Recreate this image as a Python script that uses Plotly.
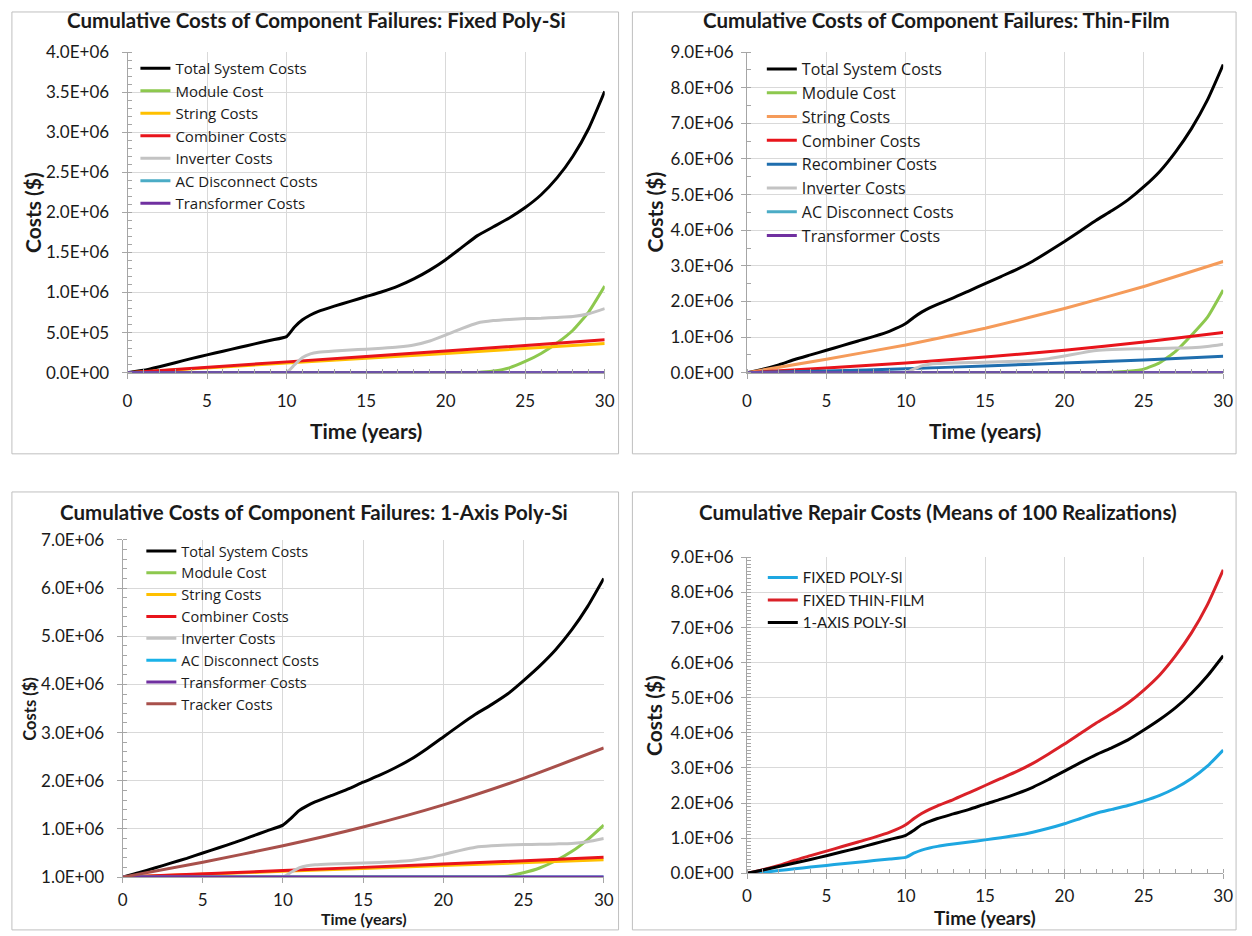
import plotly.graph_objects as go

W, H = 1252, 936

# ---------------- data (costs in $) ----------------
# common time grid for the total-cost curves
T = [0, 1, 2, 3, 4, 5, 6, 7, 8, 9, 10, 10.5, 11, 11.5, 12, 13, 14, 15, 16, 17,
     18, 19, 20, 21, 22, 23, 24, 25, 26, 27, 28, 29, 30]

FIXED_TOTAL = [0, 0.03e6, 0.075e6, 0.125e6, 0.175e6, 0.222e6, 0.268e6, 0.314e6, 0.36e6,
               0.405e6, 0.45e6, 0.57e6, 0.66e6, 0.72e6, 0.765e6, 0.83e6, 0.89e6, 0.95e6,
               1.01e6, 1.08e6, 1.17e6, 1.28e6, 1.41e6, 1.56e6, 1.71e6, 1.82e6, 1.93e6,
               2.06e6, 2.22e6, 2.43e6, 2.70e6, 3.05e6, 3.51e6]
THIN_TOTAL = [0, 0.10e6, 0.22e6, 0.37e6, 0.50e6, 0.63e6, 0.76e6, 0.89e6, 1.02e6, 1.17e6,
              1.38e6, 1.55e6, 1.70e6, 1.82e6, 1.92e6, 2.10e6, 2.30e6, 2.50e6, 2.70e6,
              2.90e6, 3.13e6, 3.40e6, 3.68e6, 3.98e6, 4.28e6, 4.55e6, 4.85e6, 5.22e6,
              5.65e6, 6.20e6, 6.85e6, 7.65e6, 8.65e6]
AXIS_TOTAL = [0, 0.09e6, 0.19e6, 0.29e6, 0.39e6, 0.50e6, 0.61e6, 0.72e6, 0.84e6, 0.96e6,
              1.08e6, 1.22e6, 1.38e6, 1.48e6, 1.56e6, 1.69e6, 1.82e6, 1.97e6, 2.11e6,
              2.27e6, 2.45e6, 2.67e6, 2.91e6, 3.15e6, 3.38e6, 3.58e6, 3.80e6, 4.08e6,
              4.38e6, 4.72e6, 5.13e6, 5.62e6, 6.20e6]

# inverter replacements (same profile on all three systems)
INV_T = [0, 10, 10.5, 11, 11.5, 12, 13, 14, 15, 16, 17, 18, 19, 20, 21, 22, 23, 24, 25,
         26, 27, 28, 29, 30]
INVERTER = [0, 0.005e6, 0.10e6, 0.19e6, 0.235e6, 0.255e6, 0.272e6, 0.283e6, 0.293e6,
            0.305e6, 0.32e6, 0.345e6, 0.395e6, 0.47e6, 0.55e6, 0.62e6, 0.65e6, 0.665e6,
            0.675e6, 0.68e6, 0.69e6, 0.70e6, 0.735e6, 0.80e6]

LIN_T = [0, 10, 20, 30]
ZERO_T = [0, 30]
ZERO = [0, 0]

FIXED_MODULE_T = [0, 21, 22, 23, 24, 25, 26, 27, 28, 29, 30]
FIXED_MODULE = [0, 0, 0.003e6, 0.02e6, 0.06e6, 0.14e6, 0.24e6, 0.37e6, 0.53e6, 0.76e6, 1.08e6]
FIXED_STRING = [0, 0.12e6, 0.24e6, 0.365e6]
FIXED_COMBINER = [0, 0.135e6, 0.27e6, 0.41e6]

THIN_T = [0, 5, 10, 15, 20, 25, 30]
THIN_STRING = [0, 0.38e6, 0.78e6, 1.25e6, 1.80e6, 2.42e6, 3.12e6]
THIN_COMBINER = [0, 0.13e6, 0.27e6, 0.44e6, 0.63e6, 0.86e6, 1.13e6]
THIN_RECOMBINER = [0, 0.05e6, 0.11e6, 0.19e6, 0.27e6, 0.36e6, 0.46e6]
THIN_MODULE_T = [0, 22, 23, 24, 25, 26, 27, 28, 29, 30]
THIN_MODULE = [0, 0, 0.01e6, 0.04e6, 0.10e6, 0.28e6, 0.60e6, 1.05e6, 1.55e6, 2.32e6]

AXIS_MODULE_T = [0, 23, 24, 25, 26, 27, 28, 29, 30]
AXIS_MODULE = [0, 0, 0.02e6, 0.09e6, 0.19e6, 0.34e6, 0.53e6, 0.78e6, 1.08e6]
AXIS_STRING = [0, 0.12e6, 0.24e6, 0.36e6]
AXIS_COMBINER = [0, 0.135e6, 0.27e6, 0.41e6]
AXIS_TRACKER = [0, 0.31e6, 0.65e6, 1.04e6, 1.50e6, 2.05e6, 2.68e6]

X_TICKS = [0, 5, 10, 15, 20, 25, 30]
Y1_TICKS = [0, 0.5e6, 1.0e6, 1.5e6, 2.0e6, 2.5e6, 3.0e6, 3.5e6, 4.0e6]
Y1_LABELS = ["0.0E+00", "5.0E+05", "1.0E+06", "1.5E+06", "2.0E+06", "2.5E+06",
             "3.0E+06", "3.5E+06", "4.0E+06"]
Y9_TICKS = [0, 1e6, 2e6, 3e6, 4e6, 5e6, 6e6, 7e6, 8e6, 9e6]
Y9_LABELS = ["0.0E+00", "1.0E+06", "2.0E+06", "3.0E+06", "4.0E+06", "5.0E+06",
             "6.0E+06", "7.0E+06", "8.0E+06", "9.0E+06"]
Y7_TICKS = [0, 1e6, 2e6, 3e6, 4e6, 5e6, 6e6, 7e6]
Y7_LABELS = ["1.0E+00", "1.0E+06", "2.0E+06", "3.0E+06", "4.0E+06", "5.0E+06",
             "6.0E+06", "7.0E+06"]

TITLES = ["Cumulative Costs of Component Failures: Fixed Poly-Si",
          "Cumulative Costs of Component Failures: Thin-Film",
          "Cumulative Costs of Component Failures: 1-Axis Poly-Si",
          "Cumulative Repair Costs (Means of 100 Realizations)"]

# ---------------- colours ----------------
BLACK = "#000000"
GREEN = "#8DC84E"
GOLD = "#FFC000"
ORANGE = "#F59B5A"
RED = "#E8141B"
BLUE = "#1F6EAE"
GREY = "#C3C3C3"
TEAL = "#4BACC6"
CYAN = "#1AB2E8"
PURPLE = "#7030A0"
BROWN = "#A8504B"
SKY = "#1EA7E1"
RED2 = "#DA2128"

FONT = "Lato"
LEGFONT = "Open Sans"
TXT = "#1a1a1a"


def px(x):
    return x / W


def py(y):
    return 1 - y / H


fig = go.Figure()


def add(panel, name, x, y, color):
    sfx = "" if panel == 1 else str(panel)
    fig.add_trace(go.Scatter(
        x=x, y=y, mode="lines", name=name,
        line=dict(color=color, width=3, shape="spline", smoothing=0.5),
        xaxis="x" + sfx, yaxis="y" + sfx, legend="legend" + sfx,
        hoverinfo="skip"))


# panel 1: fixed poly-Si
add(1, "Total System Costs", T, FIXED_TOTAL, BLACK)
add(1, "Module Cost", FIXED_MODULE_T, FIXED_MODULE, GREEN)
add(1, "String Costs", LIN_T, FIXED_STRING, GOLD)
add(1, "Combiner Costs", LIN_T, FIXED_COMBINER, RED)
add(1, "Inverter Costs", INV_T, INVERTER, GREY)
add(1, "AC Disconnect Costs", ZERO_T, ZERO, TEAL)
add(1, "Transformer Costs", ZERO_T, ZERO, PURPLE)

# panel 2: thin-film
add(2, "Total System Costs", T, THIN_TOTAL, BLACK)
add(2, "Module Cost", THIN_MODULE_T, THIN_MODULE, GREEN)
add(2, "String Costs", THIN_T, THIN_STRING, ORANGE)
add(2, "Combiner Costs", THIN_T, THIN_COMBINER, RED)
add(2, "Recombiner Costs", THIN_T, THIN_RECOMBINER, BLUE)
add(2, "Inverter Costs", INV_T, INVERTER, GREY)
add(2, "AC Disconnect Costs", ZERO_T, ZERO, TEAL)
add(2, "Transformer Costs", ZERO_T, ZERO, PURPLE)

# panel 3: 1-axis poly-Si
add(3, "Total System Costs", T, AXIS_TOTAL, BLACK)
add(3, "Module Cost", AXIS_MODULE_T, AXIS_MODULE, GREEN)
add(3, "String Costs", LIN_T, AXIS_STRING, GOLD)
add(3, "Combiner Costs", LIN_T, AXIS_COMBINER, RED)
add(3, "Inverter Costs", INV_T, INVERTER, GREY)
add(3, "AC Disconnect Costs", ZERO_T, ZERO, CYAN)
add(3, "Transformer Costs", ZERO_T, ZERO, PURPLE)
add(3, "Tracker Costs", THIN_T, AXIS_TRACKER, BROWN)

# panel 4: comparison of the three systems
add(4, "FIXED POLY-SI", T, FIXED_TOTAL, SKY)
add(4, "FIXED THIN-FILM", T, THIN_TOTAL, RED2)
add(4, "1-AXIS POLY-SI", T, AXIS_TOTAL, BLACK)

AXCOL = "#A6A6A6"
GRID = "#D9D9D9"
TICK_SIZE = 17


def xaxis(x0, x1, anchor, standoff, minor):
    d = dict(domain=[px(x0), px(x1)], anchor=anchor, range=[0, 30],
             tickvals=X_TICKS, ticks="outside", ticklen=5, tickcolor=AXCOL,
             showline=True, linecolor=AXCOL, linewidth=1,
             showgrid=True, gridcolor=GRID, gridwidth=1, zeroline=False,
             tickfont=dict(family=FONT, size=TICK_SIZE, color=TXT), ticklabelstandoff=standoff)
    if minor:
        d["minor"] = dict(dtick=1, ticks="inside", ticklen=4, tickcolor=AXCOL, showgrid=False)
    return d


def yaxis(y0, y1, anchor, top, vals, labels, mdt, standoff):
    return dict(domain=[py(y1), py(y0)], anchor=anchor, range=[0, top],
                tickvals=vals, ticktext=labels, ticks="outside", ticklen=5, tickcolor=AXCOL,
                showline=True, linecolor=AXCOL, linewidth=1,
                showgrid=True, gridcolor=GRID, gridwidth=1, zeroline=False,
                minor=dict(dtick=mdt, ticks="inside", ticklen=4, tickcolor=AXCOL, showgrid=False),
                tickfont=dict(family=FONT, size=TICK_SIZE, color=TXT), ticklabelstandoff=standoff)


# plot-area pixel boxes: left, right, top, bottom
P1 = (124, 607, 42, 370)
P2 = (751, 1233, 42, 370)
P3 = (119, 606, 541, 886)
P4 = (751, 1233, 559, 882)


def legend(text_left, first_center, size, family=LEGFONT):
    return dict(x=px(text_left - 40), xanchor="left", y=py(first_center - 15), yanchor="top",
                bgcolor="rgba(0,0,0,0)", borderwidth=0, itemwidth=30,
                font=dict(family=family, size=size, color=TXT), tracegroupgap=0)


layout = dict(
    width=W, height=H, margin=dict(l=0, r=0, t=0, b=0),
    paper_bgcolor="white", plot_bgcolor="white", showlegend=True,
    xaxis=xaxis(P1[0], P1[1], "y", 8, True),
    yaxis=yaxis(P1[2], P1[3], "x", 4e6, Y1_TICKS, Y1_LABELS, 1e5, 9),
    xaxis2=xaxis(P2[0], P2[1], "y2", 8, True),
    yaxis2=yaxis(P2[2], P2[3], "x2", 9e6, Y9_TICKS, Y9_LABELS, 5e5, 4),
    xaxis3=xaxis(P3[0], P3[1], "y3", 2, False),
    yaxis3=yaxis(P3[2], P3[3], "x3", 7e6, Y7_TICKS, Y7_LABELS, 2e5, 9),
    xaxis4=xaxis(P4[0], P4[1], "y4", 2, True),
    yaxis4=yaxis(P4[2], P4[3], "x4", 9e6, Y9_TICKS, Y9_LABELS, 1e5, 4),
    legend=legend(172, 57, 15),
    legend2=legend(806, 57, 16),
    legend3=legend(178, 551, 14.5),
    legend4=legend(807, 578, 15, "Liberation Sans Narrow, Lato"),
)
fig.update_layout(**layout)

# panel frames
FRAMES = [(7, 1, 621, 453), (635, 1, 1246, 453), (7, 492, 621, 940), (635, 492, 1246, 940)]
for x0, y0, x1, y1 in FRAMES:
    fig.add_shape(type="rect", xref="paper", yref="paper",
                  x0=px(x0), x1=px(x1), y0=py(y1), y1=py(y0),
                  line=dict(color="#BFBFBF", width=1), fillcolor="rgba(0,0,0,0)", layer="below")


# titles and axis titles
def label(text, x, y, size, angle=0):
    fig.add_annotation(text=text, x=px(x), y=py(y), xref="paper", yref="paper",
                       xanchor="center", yanchor="middle", showarrow=False, textangle=angle,
                       font=dict(family=FONT, size=size, color=TXT, weight="bold"))


label(TITLES[0], 315, 9, 20.5)
label(TITLES[1], 943, 9, 20.5)
label(TITLES[2], 313, 513, 20.5)
label(TITLES[3], 944, 513, 20.5)

label("Time (years)", 365, 429, 21)
label("Time (years)", 992, 429, 21)
label("Time (years)", 363, 928, 16)
label("Time (years)", 992, 927, 19)

label("Costs ($)", 28, 206, 21, -90)
label("Costs ($)", 657, 206, 21, -90)
label("Costs ($)", 25, 714, 16.5, -90)
label("Costs ($)", 657, 721, 21, -90)

fig.write_html("out.html")
